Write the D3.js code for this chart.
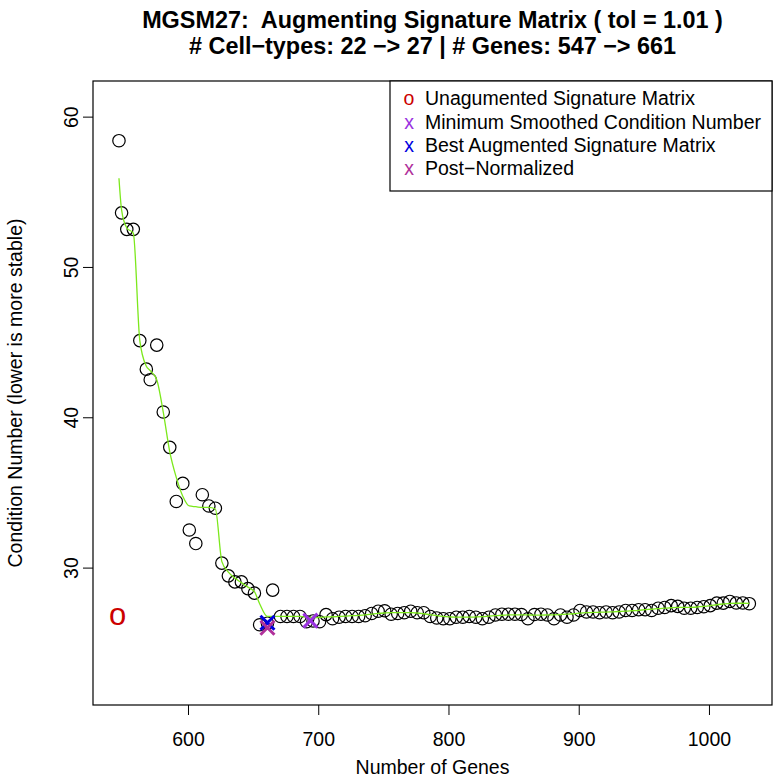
<!DOCTYPE html>
<html><head><meta charset="utf-8">
<script src="https://cdn.jsdelivr.net/npm/d3@7/dist/d3.min.js"></script>
<style>
body{margin:0;background:#fff}
text{font-family:"Liberation Sans",Arial,Helvetica,sans-serif;fill:#000}
</style>
</head><body>
<svg id="chart" width="777" height="777"></svg>
<script>
// ---- data ----
const titleLines = ["MGSM27:  Augmenting Signature Matrix ( tol = 1.01 )",
                    "# Cell\u2212types: 22 \u2212> 27 | # Genes: 547 \u2212> 661"];
const xLabel = "Number of Genes";
const yLabel = "Condition Number (lower is more stable)";
const xTicks = [600, 700, 800, 900, 1000];
const yTicks = [30, 40, 50, 60];

const genes = [547, 549, 553, 558, 563, 568, 571, 576, 581, 586, 591, 596, 601, 606, 611, 616, 621, 626, 631, 636,
  641, 646, 651, 655, 661, 665,
  671, 676, 681, 686, 691, 696, 701, 706, 711, 716, 721, 726, 731, 736, 741, 746, 751, 756, 761, 766,
  771, 776, 781, 786, 791, 796, 801, 806, 811, 816, 821, 826, 831, 836, 841, 846, 851, 856, 861, 866,
  871, 876, 881, 886, 891, 896, 901, 906, 911, 916, 921, 926, 931, 936, 941, 946, 951, 956, 961, 966,
  971, 976, 981, 986, 991, 996, 1001, 1006, 1011, 1016, 1021, 1026, 1031];
const condNumber = [58.4, 53.6, 52.5, 52.5, 45.1, 43.2, 42.5, 44.8, 40.35, 38.0, 34.4, 35.6, 32.5, 31.6, 34.85, 34.1, 33.95, 30.3, 29.45, 29.05,
  29.05, 28.6, 28.3, 26.2, 26.3, 28.5,
  26.75, 26.75, 26.75, 26.75, 26.4, 26.45, 26.4, 26.87, 26.6, 26.7, 26.75, 26.75, 26.75, 26.8, 26.95, 27.1, 27.13, 26.9, 26.95, 27.0,
  27.1, 27.0, 27.0, 26.75, 26.65, 26.6, 26.6, 26.7, 26.7, 26.75, 26.7, 26.6, 26.7, 26.85, 26.9, 26.9, 26.9, 26.88, 26.6, 26.88,
  26.9, 26.85, 26.6, 26.85, 26.7, 26.85, 27.15, 27.05, 27.05, 27.0, 27.05, 27.0, 27.05, 27.15, 27.15, 27.2, 27.2, 27.15, 27.3, 27.35,
  27.47, 27.42, 27.3, 27.3, 27.35, 27.4, 27.47, 27.64, 27.64, 27.75, 27.65, 27.65, 27.6];
const smoothed = [55.9, 53.8, 52.6, 52.25, 45.1, 43.4, 43.1, 42.5, 40.35, 37.7, 36.0, 34.75, 34.1, 34.05, 34.0, 34.0, 33.9, 30.4, 29.7, 29.3,
  29.0, 28.7, 28.4, 27.6, 26.75, 26.75,
  26.75, 26.75, 26.75, 26.75, 26.7, 26.68, 26.68, 26.72, 26.73, 26.75, 26.77, 26.8, 26.82, 26.85, 26.9, 26.95, 26.98, 27.0, 27.0, 27.0,
  27.0, 26.98, 26.93, 26.87, 26.8, 26.75, 26.72, 26.7, 26.7, 26.7, 26.72, 26.74, 26.77, 26.8, 26.83, 26.85, 26.86, 26.86, 26.85, 26.84,
  26.84, 26.85, 26.86, 26.88, 26.9, 26.93, 26.97, 27.0, 27.02, 27.03, 27.04, 27.06, 27.08, 27.1, 27.13, 27.16, 27.2, 27.23, 27.27, 27.3,
  27.33, 27.35, 27.35, 27.36, 27.38, 27.42, 27.47, 27.53, 27.58, 27.62, 27.63, 27.63, 27.62];

const legendLabels = ["Unagumented Signature Matrix", "Minimum Smoothed Condition Number",
                      "Best Augmented Signature Matrix", "Post\u2212Normalized"];
const legendSymbols = ["o", "x", "x", "x"];
const legendColors = ["#CC0000", "#9A32E0", "#0000E0", "#B0309A"];

const unaugmented = {genes: 546, cond: 26.9};
const markers = [
  {genes: 694, cond: 26.47, color: "#9A32E0"},
  {genes: 661, cond: 26.33, color: "#0000E0"},
  {genes: 661, cond: 26.0, color: "#B0309A"}
];

// ---- layout ----
const svg = d3.select("#chart");
const L = 93, R = 772, T = 81, B = 705;
const x = d3.scaleLinear().domain([527.06, 1048.4]).range([L, R]);
const y = d3.scaleLinear().domain([20.86, 62.37]).range([B, T]);
const fs = 19.5;

// title
svg.append("text").attr("x", (L + R) / 2).attr("y", 27.5).attr("text-anchor", "middle")
  .style("font-weight", "bold").style("font-size", "23.4px").style("white-space", "pre").text(titleLines[0]);
svg.append("text").attr("x", (L + R) / 2).attr("y", 54).attr("text-anchor", "middle")
  .style("font-weight", "bold").style("font-size", "23.4px").style("white-space", "pre").text(titleLines[1]);

// axes
const xAxis = svg.append("g").attr("transform", `translate(0,${B})`)
  .call(d3.axisBottom(x).tickValues(xTicks).tickSize(10).tickSizeOuter(0).tickFormat(d3.format("d")));
xAxis.select(".domain").remove();
xAxis.selectAll("line").attr("stroke", "#000");
xAxis.selectAll("text").style("font-size", fs + "px").attr("y", 0).attr("dy", "41px")
  .style("font-family", '"Liberation Sans",Arial,sans-serif').attr("fill", "#000");

const yAxis = svg.append("g").attr("transform", `translate(${L},0)`)
  .call(d3.axisLeft(y).tickValues(yTicks).tickSize(10).tickSizeOuter(0).tickFormat(d3.format("d")));
yAxis.select(".domain").remove();
yAxis.selectAll("line").attr("stroke", "#000");
yAxis.selectAll("text").style("font-size", fs + "px").attr("x", null).attr("dy", null)
  .attr("text-anchor", "middle").attr("transform", "translate(-15,0) rotate(-90)")
  .style("font-family", '"Liberation Sans",Arial,sans-serif').attr("fill", "#000");

// box
svg.append("rect").attr("x", L).attr("y", T).attr("width", R - L).attr("height", B - T)
  .attr("fill", "none").attr("stroke", "#000").attr("stroke-width", 1.2);

// axis labels
svg.append("text").attr("x", (L + R) / 2).attr("y", 774).attr("text-anchor", "middle")
  .style("font-size", fs + "px").text(xLabel);
svg.append("text").attr("transform", `translate(22,${(T + B) / 2}) rotate(-90)`).attr("text-anchor", "middle")
  .style("font-size", fs + "px").text(yLabel);

// points
const pts = genes.map((g, i) => ({g, c: condNumber[i], s: smoothed[i]}));
svg.append("g").selectAll("circle").data(pts).join("circle")
  .attr("cx", d => x(d.g)).attr("cy", d => y(d.c)).attr("r", 6.2)
  .attr("fill", "none").attr("stroke", "#000").attr("stroke-width", 1.2);

// smoothed line
svg.append("path").datum(pts)
  .attr("d", d3.line().curve(d3.curveMonotoneX).x(d => x(d.g)).y(d => y(d.s)))
  .attr("fill", "none").attr("stroke", "#7CE81C").attr("stroke-width", 1.3);

// unaugmented
svg.append("text").attr("x", x(unaugmented.genes)).attr("y", y(unaugmented.cond))
  .attr("text-anchor", "middle").attr("dy", "0.34em").style("font-size", "31px")
  .style("fill", legendColors[0]).text("o");

// X markers
const h = 7;
markers.forEach(m => {
  const cx = x(m.genes), cy = y(m.cond);
  const p = d3.path();
  p.moveTo(cx - h, cy - h); p.lineTo(cx + h, cy + h);
  p.moveTo(cx - h, cy + h); p.lineTo(cx + h, cy - h);
  svg.append("path").attr("d", p.toString()).attr("stroke", m.color).attr("stroke-width", 3).attr("fill", "none");
});

// legend
const lg = svg.append("g");
lg.append("rect").attr("x", 390).attr("y", T).attr("width", R - 390).attr("height", 110)
  .attr("fill", "#fff").attr("stroke", "#000").attr("stroke-width", 1.2);
legendLabels.forEach((lab, i) => {
  const yy = 98.5 + i * 23.3;
  lg.append("text").attr("x", 409).attr("y", yy).attr("dy", "0.35em").attr("text-anchor", "middle")
    .style("font-size", fs + "px").style("fill", legendColors[i]).text(legendSymbols[i]);
  lg.append("text").attr("x", 425).attr("y", yy).attr("dy", "0.35em")
    .style("font-size", fs + "px").text(lab);
});
</script>
</body></html>
